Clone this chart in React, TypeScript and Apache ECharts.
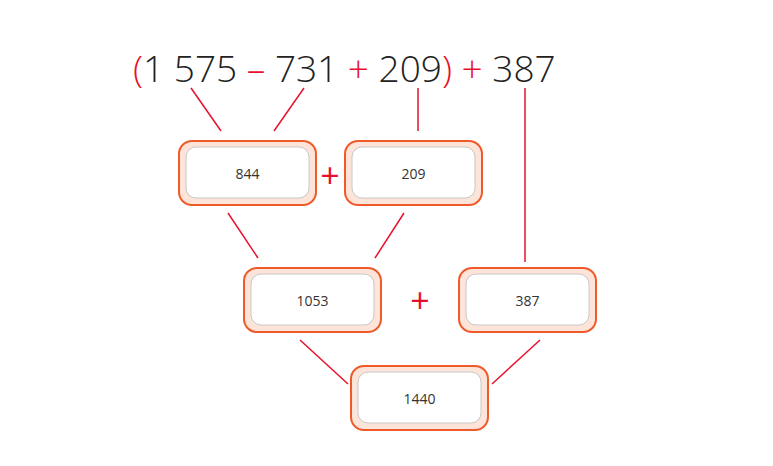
import React, { useRef, useEffect } from 'react';
import * as echarts from 'echarts';

// expression pieces: [text, isOperator]
const exprParts: [string, boolean][] = [
  ['(', true], ['1 575 ', false], ['– ', true], ['731 ', false], ['+ ', true],
  ['209', false], [')', true], [' + ', true], ['387', false],
];
const boxValues = ['844', '209', '1053', '387', '1440'];

const RED = '#e8112d';
const ORANGE = '#ee5a2a';

const App: React.FC = () => {
  const chartRef = useRef<HTMLDivElement>(null);

  useEffect(() => {
    if (!chartRef.current) return;
    const chart = echarts.init(chartRef.current, null, { renderer: 'svg' });

    const boxPos = [
      [179, 141], [345, 141], [244, 268], [459, 268], [351, 366],
    ];
    const boxes: any[] = [];
    boxPos.forEach(([x, y], i) => {
      boxes.push({
        type: 'rect',
        shape: { x, y, width: 137, height: 64, r: 13 },
        style: { fill: '#fde4d8', stroke: ORANGE, lineWidth: 2 },
      });
      boxes.push({
        type: 'rect',
        shape: { x: x + 7, y: y + 6, width: 123, height: 51, r: 10 },
        style: { fill: '#ffffff', stroke: '#c8c8c8', lineWidth: 1 },
      });
      boxes.push({
        type: 'text',
        x: x + 68.5,
        y: y + 32,
        style: {
          text: boxValues[i],
          font: '14px "Open Sans"',
          fill: '#333',
          align: 'center',
          verticalAlign: 'middle',
        },
      });
    });

    const lines = [
      [191, 88, 221, 131], [304, 88, 274, 131], [418, 88, 418, 131], [525, 88, 525, 262],
      [228, 213, 258, 258], [404, 213, 375, 258], [300, 340, 348, 384], [540, 340, 492, 384],
    ].map(([x1, y1, x2, y2]) => ({
      type: 'line',
      shape: { x1, y1, x2, y2 },
      style: { stroke: RED, lineWidth: 1.5 },
    }));

    const plus = [[330, 175], [420, 300]].map(([x, y]) => ({
      type: 'text',
      x,
      y,
      style: {
        text: '+',
        font: '34px "Open Sans"',
        fill: RED,
        align: 'center',
        verticalAlign: 'middle',
      },
    }));

    const rich: any = {
      o: { fill: RED, font: '300 37px "Open Sans"' },
      n: { fill: '#222', font: '300 37px "Open Sans"' },
    };
    const exprText = exprParts
      .map(([t, op]) => `{${op ? 'o' : 'n'}|${t}}`)
      .join('');

    chart.setOption({
      animation: false,
      graphic: [
        ...lines,
        ...boxes,
        ...plus,
        {
          type: 'text',
          x: 133,
          y: 67,
          style: { text: exprText, rich, verticalAlign: 'middle', align: 'left' },
        },
      ],
    });

    return () => chart.dispose();
  }, []);

  return (
    <div
      ref={chartRef}
      style={{ position: 'absolute', left: 0, top: 0, width: 773, height: 466 }}
    />
  );
};

export default App;
